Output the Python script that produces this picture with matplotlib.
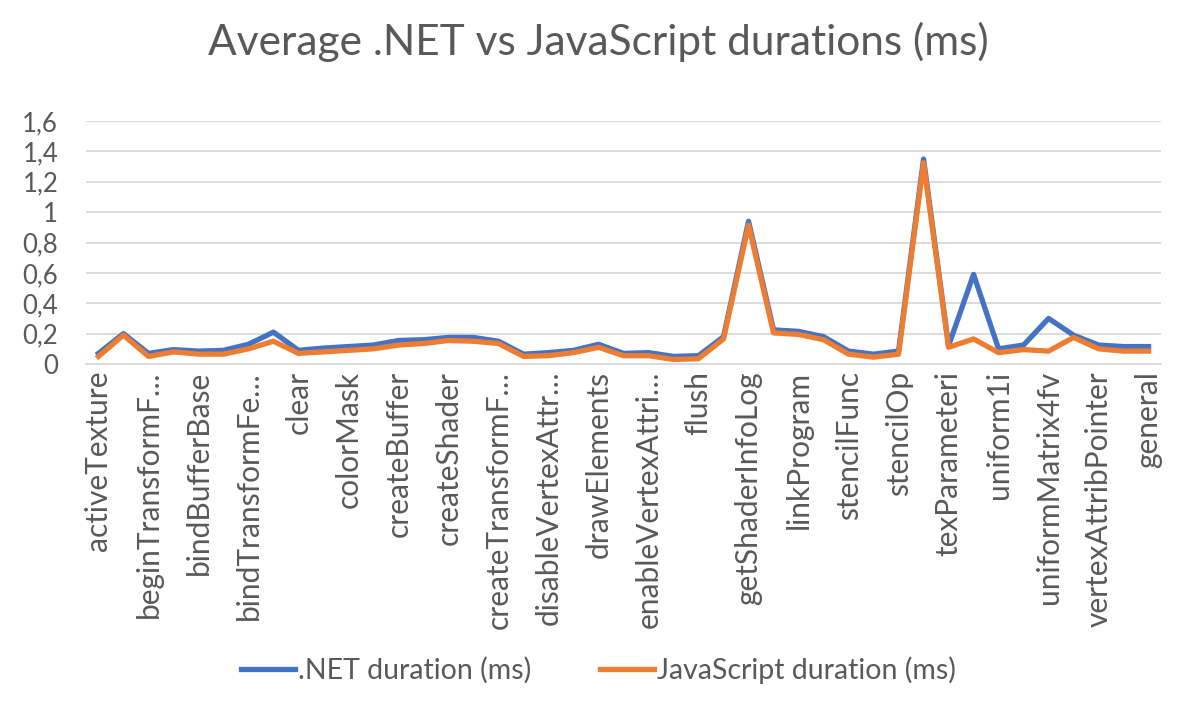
import matplotlib.pyplot as plt
from matplotlib.ticker import FuncFormatter

# categorie (una sola su due ha l'etichetta visibile)
categories = [
    'activeTexture', 'attachShader', 'beginTransformFeedback', 'bindBuffer',
    'bindBufferBase', 'bindTexture', 'bindTransformFeedback', 'bindVertexArray',
    'clear', 'clearColor', 'colorMask', 'compileShader', 'createBuffer',
    'createProgram', 'createShader', 'createTexture', 'createTransformFeedback',
    'depthFunc', 'disableVertexAttribArray', 'drawArrays', 'drawElements',
    'enable', 'enableVertexAttribArray', 'endTransformFeedback', 'flush',
    'getProgramParameter', 'getShaderInfoLog', 'getUniformLocation', 'linkProgram',
    'scissor', 'stencilFunc', 'stencilMask', 'stencilOp', 'texImage2D',
    'texParameteri', 'uniform1f', 'uniform1i', 'uniform4fv', 'uniformMatrix4fv',
    'useProgram', 'vertexAttribPointer', 'viewport', 'general',
]
tick_labels = [
    'activeTexture', 'beginTransformF…', 'bindBufferBase', 'bindTransformFe…',
    'clear', 'colorMask', 'createBuffer', 'createShader', 'createTransformF…',
    'disableVertexAttr…', 'drawElements', 'enableVertexAttri…', 'flush',
    'getShaderInfoLog', 'linkProgram', 'stencilFunc', 'stencilOp',
    'texParameteri', 'uniform1i', 'uniformMatrix4fv', 'vertexAttribPointer',
    'general',
]

net_ms = [0.07, 0.20, 0.07, 0.095, 0.085, 0.09, 0.13, 0.21, 0.09, 0.105,
          0.115, 0.125, 0.155, 0.16, 0.175, 0.175, 0.15, 0.065, 0.075, 0.09,
          0.13, 0.07, 0.075, 0.05, 0.055, 0.18, 0.94, 0.225, 0.215, 0.18,
          0.085, 0.065, 0.085, 1.35, 0.12, 0.59, 0.10, 0.125, 0.30, 0.19,
          0.125, 0.115, 0.115]
js_ms = [0.05, 0.19, 0.05, 0.08, 0.065, 0.065, 0.10, 0.15, 0.07, 0.08,
         0.09, 0.10, 0.125, 0.135, 0.155, 0.15, 0.135, 0.05, 0.055, 0.075,
         0.11, 0.055, 0.055, 0.03, 0.035, 0.165, 0.915, 0.205, 0.195, 0.16,
         0.065, 0.045, 0.065, 1.325, 0.11, 0.165, 0.075, 0.095, 0.085, 0.175,
         0.10, 0.085, 0.085]

testo = '#595959'
griglia = '#d9d9d9'
plt.rcParams['font.family'] = ['Lato', 'DejaVu Sans']

fig = plt.figure(figsize=(11.97, 7.17), dpi=100)
ax = fig.add_axes([0.0718, 0.4923, 0.8982, 0.3389])

x = list(range(len(categories)))
ax.plot(x, net_ms, color='#4472C4', linewidth=3.8, label='.NET duration (ms)',
        solid_joinstyle='round', clip_on=False)
ax.plot(x, js_ms, color='#ED7D31', linewidth=3.8, label='JavaScript duration (ms)',
        solid_joinstyle='round', clip_on=False)

ax.set_xlim(-0.5, len(categories) - 0.5)
ax.set_ylim(0, 1.6)
ax.set_yticks([0, 0.2, 0.4, 0.6, 0.8, 1.0, 1.2, 1.4, 1.6])
ax.yaxis.set_major_formatter(FuncFormatter(lambda v, p: f"{v:g}".replace('.', ',')))
ax.set_xticks(x[::2], tick_labels, rotation=90)

ax.tick_params(axis='both', length=0, colors=testo)
ax.tick_params(axis='y', pad=20, labelsize=18.5)
ax.tick_params(axis='x', pad=5, labelsize=21.5)
ax.grid(axis='y', color=griglia, linewidth=1.3)
ax.set_axisbelow(True)
for s in ['top', 'right', 'left']:
    ax.spines[s].set_visible(False)
ax.spines['bottom'].set_color(griglia)
ax.spines['bottom'].set_linewidth(1.3)

fig.suptitle('Average .NET vs JavaScript durations (ms)', color=testo,
             fontsize=30.5, y=0.97)
fig.legend(loc='center', bbox_to_anchor=(0.5, 0.065), ncol=2, frameon=False,
           fontsize=20.5, labelcolor=testo, handlelength=1.9, columnspacing=2.4,
           handletextpad=0.1)

plt.savefig('out.png', dpi=100)
